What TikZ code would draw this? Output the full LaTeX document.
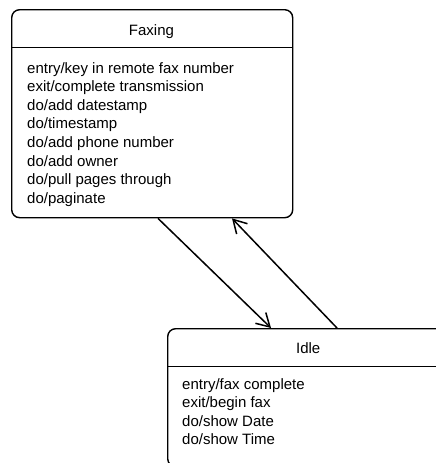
\documentclass[tikz,border=0pt]{standalone}
\usepackage{fontspec}
\setmainfont{Liberation Sans}
\usetikzlibrary{arrows.meta}
\begin{document}
\begin{tikzpicture}[x=1pt,y=-1pt,
    statebox/.style={draw, line width=1.4pt, rounded corners=8pt, minimum width=281pt, inner sep=0pt, anchor=north west},
    statetext/.style={inner sep=0pt, align=left, font=\fontsize{15}{18.6}\selectfont},
    transition/.style={line width=1.5pt, -{Straight Barb[length=13pt,width=15pt,line width=1.5pt]}}]
        \useasboundingbox (0,0) rectangle (436,463);
        \clip (0,0) rectangle (436,463);
        % Faxing state
        \node[statebox, minimum height=208pt] (faxing) at (11,9) {};
        \draw[line width=0.8pt] ([yshift=-38pt]faxing.north west) -- ([yshift=-38pt]faxing.north east);
        \node[statetext, anchor=base] (faxtitle) at (151.5,35) {Faxing};
        \node[statetext, anchor=north west] (faxbody) at (27,62) {entry/key in remote fax number\\exit/complete transmission\\do/add datestamp\\do/timestamp\\do/add phone number\\do/add owner\\do/pull pages through\\do/paginate};
        % Idle state
        \node[statebox, minimum height=138pt] (idle) at (167,328) {};
        \draw[line width=0.8pt] ([yshift=-38pt]idle.north west) -- ([yshift=-38pt]idle.north east);
        \node[statetext, anchor=base] (idletitle) at (idle.north |- 0,353) {Idle};
        \node[statetext, anchor=north west] (idlebody) at (182,378) {entry/fax complete\\exit/begin fax\\do/show Date\\do/show Time};
        % transitions
        \coordinate (faxout) at ([xshift=147pt]faxing.south west);
        \coordinate (idlein) at ([xshift=104pt]idle.north west);
        \coordinate (idleout) at ([xshift=170pt]idle.north west);
        \coordinate (faxin) at ([xshift=221pt]faxing.south west);
        \draw[transition] (faxout) -- (idlein);
        \draw[transition] (idleout) -- (faxin);
\end{tikzpicture}
\end{document}
